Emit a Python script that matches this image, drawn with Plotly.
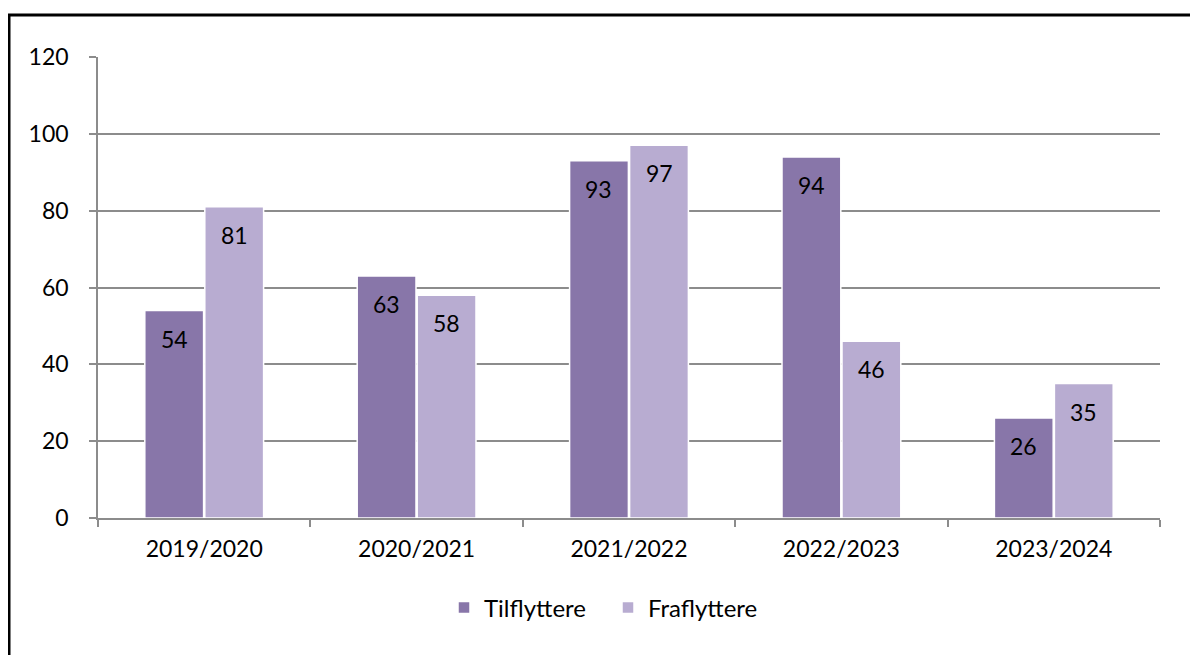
import plotly.graph_objects as go

categories = ["2019/2020", "2020/2021", "2021/2022", "2022/2023", "2023/2024"]
tilflyttere = [54, 63, 93, 94, 26]
fraflyttere = [81, 58, 97, 46, 35]
series_names = ["Tilflyttere", "Fraflyttere"]
y_ticks = [0, 20, 40, 60, 80, 100, 120]

dark = "#8876A9"
light = "#B8ACD1"
grid = "#8C8C8C"
FONT = "Lato, 'Open Sans', sans-serif"

# page body has an 8px margin; figure sized to fill the rest of the window
W, H = 1190, 647
L, R, T, B = 90, 38, 49, 137
pw, ph = W - L - R, H - T - B

fig = go.Figure()
fig.add_trace(go.Bar(x=categories, y=tilflyttere, name=series_names[0],
                     marker=dict(color=dark, line=dict(color="white", width=1.5))))
fig.add_trace(go.Bar(x=categories, y=fraflyttere, name=series_names[1],
                     marker=dict(color=light, line=dict(color="white", width=1.5))))

bargap = 0.435
groupw = pw / len(categories) * (1 - bargap)
for vals, sign in ((tilflyttere, -1), (fraflyttere, 1)):
    for c, v in zip(categories, vals):
        fig.add_annotation(x=c, y=v, text=str(v), showarrow=False,
                           xshift=sign * groupw / 4, yshift=-28,
                           font=dict(family=FONT, size=23, color="black"))

# outer border
fig.add_shape(type="rect", xref="paper", yref="paper",
              x0=(1 - L) / pw, x1=(W + 10 - L) / pw,
              y0=-(B + 10) / ph, y1=(H - B - 7) / ph,
              line=dict(color="black", width=3), fillcolor="rgba(0,0,0,0)")

fig.update_layout(
    width=W, height=H,
    margin=dict(l=L, r=R, t=T, b=B),
    plot_bgcolor="white", paper_bgcolor="white",
    barmode="group", bargap=bargap, bargroupgap=0.02,
    font=dict(family=FONT, size=23, color="black"),
    showlegend=True,
    legend=dict(orientation="h", x=0.5 - 21 / pw, xanchor="center", y=-0.195,
                yanchor="middle", font=dict(family=FONT, size=24), itemwidth=30,
                traceorder="normal", entrywidth=119, entrywidthmode="pixels"),
    xaxis=dict(showline=True, linecolor=grid, linewidth=1.5, ticks="outside",
               tickson="boundaries", ticklen=7, tickcolor=grid, tickwidth=1.5,
               showgrid=False, tickfont=dict(size=23), ticklabelstandoff=10),
    yaxis=dict(range=[0, 120], tickvals=y_ticks, showline=True, linecolor=grid,
               linewidth=1.5, ticks="outside", ticklen=7, tickcolor=grid, tickwidth=1.5,
               showgrid=True, gridcolor=grid, gridwidth=1.5, zeroline=False,
               tickfont=dict(size=23), ticklabelstandoff=16),
)

fig.write_html("out.html")
